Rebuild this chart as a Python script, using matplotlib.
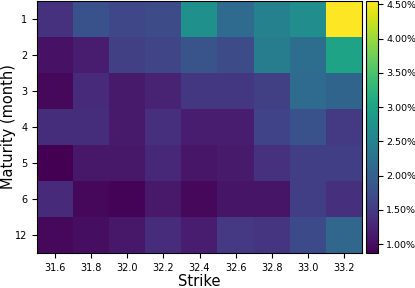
import numpy as np
import matplotlib
matplotlib.use("Agg")
import matplotlib.pyplot as plt
from matplotlib.ticker import PercentFormatter

# Heatmap values by maturity (rows) and strike (columns), as fractions
strikes = ["31.6", "31.8", "32.0", "32.2", "32.4", "32.6", "32.8", "33.0", "33.2"]
maturities = ["1", "2", "3", "4", "5", "6", "12"]

row_1 = [0.0139, 0.0179, 0.0165, 0.0172, 0.0271, 0.0216, 0.0249, 0.0267, 0.0455]
row_2 = [0.0105, 0.0116, 0.0157, 0.0164, 0.0183, 0.0172, 0.0241, 0.0220, 0.0300]
row_3 = [0.0095, 0.0131, 0.0113, 0.0124, 0.0146, 0.0146, 0.0157, 0.0216, 0.0205]
row_4 = [0.0135, 0.0135, 0.0113, 0.0137, 0.0116, 0.0116, 0.0161, 0.0179, 0.0150]
row_5 = [0.0087, 0.0111, 0.0111, 0.0130, 0.0109, 0.0113, 0.0139, 0.0155, 0.0155]
row_6 = [0.0131, 0.0095, 0.0090, 0.0112, 0.0095, 0.0108, 0.0108, 0.0155, 0.0137]
row_12 = [0.0095, 0.0100, 0.0111, 0.0133, 0.0117, 0.0148, 0.0142, 0.0170, 0.0208]

data = np.array([row_1, row_2, row_3, row_4, row_5, row_6, row_12])

fig = plt.figure(figsize=(4.15, 2.88), dpi=100)
ax = fig.add_axes([37 / 415, 35 / 288, 325 / 415, 252 / 288])
cax = fig.add_axes([366 / 415, 35 / 288, 12 / 415, 252 / 288])

im = ax.imshow(data, cmap="viridis", aspect="auto")
ax.set_xticks(range(len(strikes)))
ax.set_xticklabels(strikes, fontsize=7)
ax.set_yticks(range(len(maturities)))
ax.set_yticklabels(maturities, fontsize=7)
ax.set_xlabel("Strike", fontsize=10.5, labelpad=1)
ax.set_ylabel("Maturity (month)", fontsize=10.5)
ax.yaxis.set_label_coords(-0.066, 0.5)

cb = fig.colorbar(im, cax=cax)
cb.set_ticks([0.01, 0.015, 0.02, 0.025, 0.03, 0.035, 0.04, 0.045])
cb.ax.yaxis.set_major_formatter(PercentFormatter(xmax=1, decimals=2))
cb.ax.tick_params(labelsize=6.8, pad=2.5)

fig.savefig("out.png", dpi=100)
